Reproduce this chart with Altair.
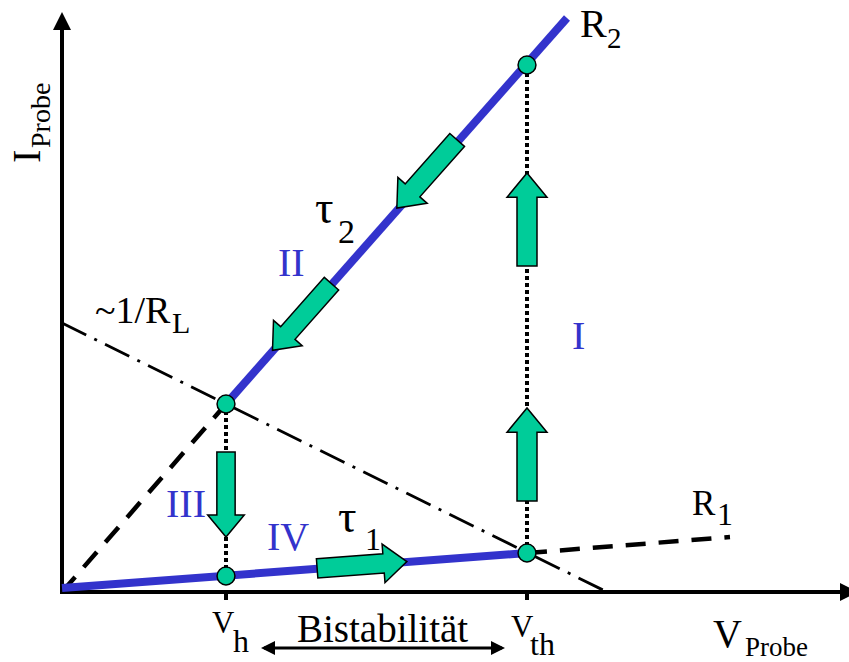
import altair as alt
import pandas as pd

# ---- colours and fonts ----
BLUE = "#3333CC"
GREEN = "#00CC99"
SERIF = "Liberation Serif"

# ---- characteristic of the probe (drawing units, origin at the axes' crossing) ----
V_H, V_TH = 164, 465                 # hold and threshold voltages
I_LOW = [16, 39]                     # currents on branch R1 at V_h, V_th
I_HIGH = [188, 527]                  # currents on branch R2 at V_h, V_th

# straight segments: [v_start, v_end], [i_start, i_end]
r1_solid_v, r1_solid_i = [0, V_TH], [4, 39]
r1_dash_v, r1_dash_i = [V_TH, 668], [39, 55]
r2_solid_v, r2_solid_i = [V_H, 505], [188, 574]
r2_dash_v, r2_dash_i = [0, V_H], [0, 188]
load_v, load_i = [0, 543], [269, 1]

# axes
x_axis_v, x_axis_i = [-2, 780], [0, 0]
y_axis_v, y_axis_i = [0, 0], [-2, 562]
axis_heads_v, axis_heads_i, axis_heads_angle = [787, 0], [0, 571], [0, 270]

# transition arrows (centre, direction, length)
arrow_v = [465, 465, 164, 300, 365, 240]
arrow_i = [137.5, 372.5, 97.5, 27, 418, 275]
arrow_angle = [270, 270, 90, 355.7, 131.5, 131.5]
arrow_len = [93, 93, 85, 90, 91, 89]

# bistability range arrow
bist_line_v, bist_line_i = [202, 440], [-56, -56]
bist_heads_v, bist_heads_i, bist_heads_angle = [206, 436], [-56, -56], [180, 0]

# labels
label_text = ["R", "2", "R", "1", "~1/R", "L", "τ", "2", "τ", "1",
              "II", "I", "III", "IV",
              "V", "h", "V", "th", "Bistabilität", "V", "Probe",
              "I", "Probe"]
label_v = [518, 545, 630, 655, 33, 110, 253, 276, 276, 303,
           216, 510, 104, 205,
           150, 171, 449, 468, 235, 651, 683,
           -22, -12]
label_i = [555, 544, 77, 67, 269, 259, 369, 349, 60, 42,
           316, 243, 75, 42,
           -41, -60, -45, -63, -50, -55, -64,
           429, 444]
label_size = [40, 29, 35, 32, 38, 30, 46, 34, 46, 32,
              40, 40, 40, 40,
              31, 32, 31, 32, 39, 40, 27,
              40, 28]
label_color = ["black"] * 10 + [BLUE] * 4 + ["black"] * 9
label_angle = [0] * 21 + [270, 270]

ARROW = "M-1,-0.215L0.48,-0.215L0.48,-0.43L1,0L0.48,0.43L0.48,0.215L-1,0.215Z"
HEAD = "M-1,-1L1,0L-1,1Z"

X = dict(scale=alt.Scale(domain=[-62, 787], nice=False, zero=False), axis=None)
Y = dict(scale=alt.Scale(domain=[-70, 592], nice=False, zero=False), axis=None)


def segments(vs, is_):
    return pd.DataFrame({"x": [vs[0]], "y": [is_[0]], "x2": [vs[1]], "y2": [is_[1]]})


def seg_layer(vs, is_, **style):
    return alt.Chart(segments(vs, is_)).mark_rule(**style).encode(
        x=alt.X("x:Q", **X), y=alt.Y("y:Q", **Y), x2="x2:Q", y2="y2:Q"
    )


def heads(vs, is_, angles, size, shape, **style):
    df = pd.DataFrame({"x": vs, "y": is_, "angle": angles})
    return alt.Chart(df).mark_point(
        shape=shape, filled=True, fill="black", opacity=1, size=size, **style
    ).encode(
        x=alt.X("x:Q", **X), y=alt.Y("y:Q", **Y),
        angle=alt.Angle("angle:Q", scale=None),
    )


axes = (
    seg_layer(x_axis_v, x_axis_i, color="black", strokeWidth=4)
    + seg_layer(y_axis_v, y_axis_i, color="black", strokeWidth=4)
    + heads(axis_heads_v, axis_heads_i, axis_heads_angle, 324, HEAD)
)

ticks = alt.Chart(pd.DataFrame({"x": [V_H, V_TH]})).mark_rule(
    color="black", strokeWidth=4
).encode(x=alt.X("x:Q", **X), y=alt.value(592), y2=alt.value(600))

guides = (
    seg_layer(r2_dash_v, r2_dash_i, color="black", strokeWidth=4.5, strokeDash=[20, 13])
    + seg_layer(r1_dash_v, r1_dash_i, color="black", strokeWidth=4.5, strokeDash=[20, 13])
    + seg_layer(load_v, load_i, color="black", strokeWidth=2.8, strokeDash=[27, 9, 3, 9])
    + seg_layer([V_H, V_H], [I_LOW[0], I_HIGH[0]], color="black", strokeWidth=4, strokeDash=[4, 3])
    + seg_layer([V_TH, V_TH], [I_LOW[1], I_HIGH[1]], color="black", strokeWidth=4, strokeDash=[4, 3])
)

branches = (
    seg_layer(r1_solid_v, r1_solid_i, color=BLUE, strokeWidth=8)
    + seg_layer(r2_solid_v, r2_solid_i, color=BLUE, strokeWidth=8)
)

arrows_df = pd.DataFrame({"x": arrow_v, "y": arrow_i, "angle": arrow_angle,
                          "size": [l * l for l in arrow_len]})
arrows = alt.Chart(arrows_df).mark_point(
    shape=ARROW, filled=True, fill=GREEN, stroke="black", strokeWidth=1.5, opacity=1
).encode(
    x=alt.X("x:Q", **X), y=alt.Y("y:Q", **Y),
    angle=alt.Angle("angle:Q", scale=None),
    size=alt.Size("size:Q", scale=None),
)

points_df = pd.DataFrame({"x": [V_H, V_TH, V_H, V_TH], "y": I_LOW + I_HIGH})
points = alt.Chart(points_df).mark_point(
    shape="circle", filled=True, fill=GREEN, stroke="black", strokeWidth=1.5,
    size=320, opacity=1
).encode(x=alt.X("x:Q", **X), y=alt.Y("y:Q", **Y))

bist = (
    seg_layer(bist_line_v, bist_line_i, color="black", strokeWidth=3)
    + heads(bist_heads_v, bist_heads_i, bist_heads_angle, 196, HEAD)
)

labels_df = pd.DataFrame({"text": label_text, "x": label_v, "y": label_i,
                          "size": label_size, "color": label_color,
                          "angle": label_angle})
labels = alt.Chart(labels_df).mark_text(
    font=SERIF, align="left", baseline="alphabetic"
).encode(
    x=alt.X("x:Q", **X), y=alt.Y("y:Q", **Y),
    text="text:N",
    size=alt.Size("size:Q", scale=None),
    color=alt.Color("color:N", scale=None),
    angle=alt.Angle("angle:Q", scale=None),
)

chart = alt.layer(
    axes, ticks, guides, branches, arrows, points, bist, labels
).properties(
    width=849, height=662,
    autosize=alt.AutoSizeParams(type="none"),
    padding=0,
    background="white",
).configure_view(stroke=None)

chart.save("out.html", embed_options={"renderer": "svg", "actions": False})
